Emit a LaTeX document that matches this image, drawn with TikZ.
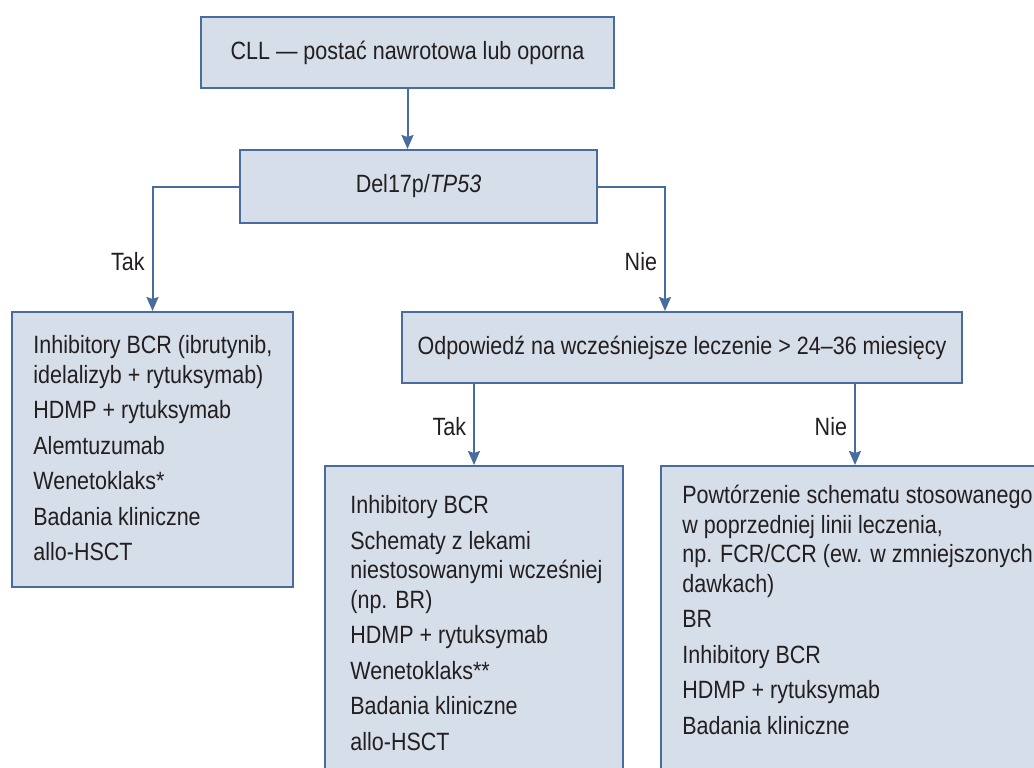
\documentclass[tikz,border=0pt]{standalone}
\usepackage{fontspec}
\setmainfont[FakeStretch=0.86]{Liberation Sans}
\usetikzlibrary{arrows.meta}

\definecolor{boxfill}{RGB}{214,222,234}
\definecolor{boxline}{RGB}{72,108,158}
\definecolor{ink}{RGB}{35,31,32}

\tikzset{
  box/.style={draw=boxline, fill=boxfill, line width=1pt, inner sep=0pt, text=ink},
  list/.style={anchor=north west, inner sep=0pt, align=left, text=ink},
  link/.style={draw=boxline, line width=1pt, -{Stealth[length=7pt, width=6pt, inset=1pt]}},
  lab/.style={anchor=east, inner sep=0pt, xshift=-3.5pt, text=ink},
}

\begin{document}
\begin{tikzpicture}[x=0.5pt, y=-0.5pt, font=\fontsize{12.5}{14.75}\selectfont]
  \useasboundingbox (0,0) rectangle (1034,767);
  \clip (0,0) rectangle (1034,767);

  % boxes
  \node[box, minimum width=206.5pt, minimum height=35.5pt] (start) at (407.5,52.5) {CLL — postać nawrotowa lub oporna};
  \node[box, minimum width=178.5pt, minimum height=36.5pt] (del) at (418.5,186.5) {Del17p/\textit{TP53}\hspace{13pt}};
  \node[box, minimum width=140.5pt, minimum height=137.5pt] (leftbox) at (152.5,449.5) {};
  \node[box, minimum width=280pt, minimum height=35.5pt] (resp) at (682,347.5) {Odpowiedź na wcześniejsze leczenie > 24–36 miesięcy};
  \node[box, minimum width=149pt, minimum height=167pt] (midbox) at (474,633) {};
  \node[box, minimum width=194pt, minimum height=167pt] (rightbox) at (855,633) {};

  % lists
  \node[list] (leftlist) at (33,335) {Inhibitory BCR (ibrutynib,\\ idelalizyb + rytuksymab)\\[3pt]
    HDMP + rytuksymab\\[3pt] Alemtuzumab\\[3pt] Wenetoklaks*\\[3pt] Badania kliniczne\\[3pt] allo-HSCT};
  \node[list] (midlist) at (350,495) {Inhibitory BCR\\[3pt] Schematy z lekami\\ niestosowanymi wcześniej\\ (np. BR)\\[3pt]
    HDMP + rytuksymab\\[3pt] Wenetoklaks**\\[3pt] Badania kliniczne\\[3pt] allo-HSCT};
  \node[list] (rightlist) at (682,485) {Powtórzenie schematu stosowanego\\ w poprzedniej linii leczenia,\\
    np. FCR/CCR (ew. w zmniejszonych\\ dawkach)\\[3pt] BR\\[3pt] Inhibitory BCR\\[3pt] HDMP + rytuksymab\\[3pt] Badania kliniczne};

  % connectors
  \draw[link] (start.south) -- (start.south |- del.north);
  \draw[link] (del.west) -| node[lab, pos=0.8] (tak1) {Tak} (leftbox.north);
  \draw[link] (del.east) -| node[lab, pos=0.8] (nie1) {Nie} ([xshift=132pt]resp.north west);
  \draw[link] (resp.south -| midbox.north) -- node[lab, pos=0.53] (tak2) {Tak} (midbox.north);
  \draw[link] (resp.south -| rightbox.north) -- node[lab, pos=0.53] (nie2) {Nie} (rightbox.north);
\end{tikzpicture}
\end{document}
